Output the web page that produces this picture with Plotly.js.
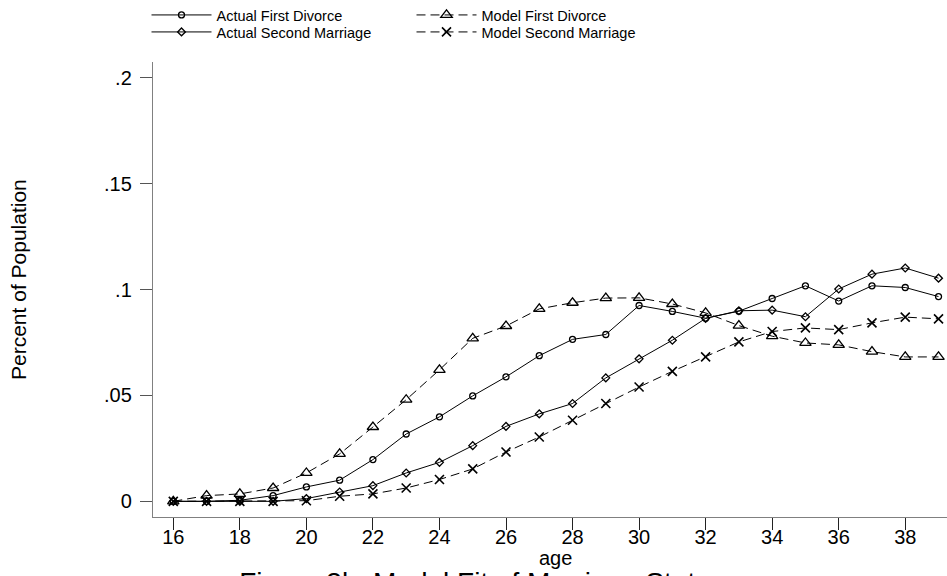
<!DOCTYPE html>
<html>
<head>
<meta charset="utf-8">
<script src="https://cdn.plot.ly/plotly-3.0.1.min.js"></script>
<style>html,body{margin:0;padding:0;background:#fff;}#chart{width:947px;height:576px;}</style>
</head>
<body>
<div id="chart"></div>
<script>
var ages = [16,17,18,19,20,21,22,23,24,25,26,27,28,29,30,31,32,33,34,35,36,37,38,39];
var actualFirstDivorce = [0,0,0.0005,0.0027,0.0068,0.0100,0.0197,0.0318,0.0399,0.0498,0.0588,0.0688,0.0765,0.0788,0.0925,0.0897,0.0865,0.0898,0.0958,0.1018,0.0946,0.1018,0.1010,0.0967];
var modelFirstDivorce = [0,0.0027,0.0035,0.0063,0.0134,0.0224,0.0351,0.0480,0.0621,0.0770,0.0828,0.0909,0.0938,0.0960,0.0961,0.0932,0.0890,0.0830,0.0780,0.0748,0.0739,0.0707,0.0682,0.0682];
var actualSecondMarriage = [0,0,0,0,0.0013,0.0044,0.0074,0.0134,0.0184,0.0263,0.0354,0.0413,0.0462,0.0583,0.0673,0.0761,0.0864,0.0900,0.0903,0.0872,0.1003,0.1073,0.1102,0.1054];
var modelSecondMarriage = [0,0,0,0,0.0003,0.0024,0.0035,0.0063,0.0103,0.0153,0.0233,0.0304,0.0383,0.0462,0.0540,0.0614,0.0682,0.0753,0.0802,0.0819,0.0811,0.0843,0.0870,0.0862];
var seriesNames = ["Actual First Divorce","Model First Divorce","Actual Second Marriage","Model Second Marriage"];
var yTickVals = [0,0.05,0.1,0.15,0.2];
var yTickText = ["0",".05",".1",".15",".2"];
var xTickVals = [16,18,20,22,24,26,28,30,32,34,36,38];

var FONT = "Liberation Sans, Arial, Helvetica, sans-serif";

function tr(y, name, sym, size, dash, leg) {
  return {
    x: ages, y: y, name: name, type: "scatter", mode: "lines+markers",
    line: {color: "#000", width: 1, dash: dash},
    marker: {symbol: sym, size: size, color: "#000", line: {color: "#000", width: 1.3}},
    legend: leg, cliponaxis: false
  };
}
var data = [
  tr(actualFirstDivorce, seriesNames[0], "circle-open", 6, "solid", "legend"),
  tr(modelFirstDivorce, seriesNames[1], "triangle-up-open", 10, "9px,5px", "legend3"),
  tr(actualSecondMarriage, seriesNames[2], "diamond-open", 6, "solid", "legend2"),
  tr(modelSecondMarriage, seriesNames[3], "x-thin-open", 9, "9px,5px", "legend4")
];
data[3].marker.line.width = 1.6;

function leg(x, y) {
  return {x: x/947, y: 1 - y/576, xref: "container", yref: "container", xanchor: "left", yanchor: "middle",
    bgcolor: "rgba(0,0,0,0)", borderwidth: 0, itemwidth: 60, font: {family: FONT, size: 14.5, color: "#000"}};
}

var layout = {
  width: 947, height: 576,
  paper_bgcolor: "#fff", plot_bgcolor: "#fff",
  font: {family: FONT, color: "#000"},
  margin: {l: 153, r: 0, t: 62, b: 59, autoexpand: false},
  title: {text: "Figure 3b: Model Fit of Marriage States", font: {family: FONT, size: 28, color: "#000"},
    x: 482/947, xref: "container", xanchor: "center", y: 4/576, yref: "container", yanchor: "top"},
  xaxis: {range: [15.39, 39.255], tickvals: xTickVals, showline: true, linecolor: "#808080", linewidth: 1.2,
    ticks: "outside", ticklen: 12, tickcolor: "#222", tickwidth: 1, showgrid: false, zeroline: false,
    ticklabelstandoff: -10,
    tickfont: {family: FONT, size: 20, color: "#000"}},
  yaxis: {range: [-0.0074, 0.2075], tickvals: yTickVals, ticktext: yTickText, showline: true, linecolor: "#808080", linewidth: 1.2,
    ticks: "outside", ticklen: 12, tickcolor: "#555", tickwidth: 1, showgrid: false, zeroline: false,
    ticklabelstandoff: 4,
    tickfont: {family: FONT, size: 20, color: "#000"}},
  annotations: [
    {text: "Percent of Population", textangle: -90, xref: "paper", yref: "paper",
     x: -135/794, y: (517 - 280)/455, xanchor: "center", yanchor: "middle", showarrow: false,
     font: {family: FONT, size: 21, color: "#000"}},
    {text: "age", xref: "paper", yref: "paper", x: (555 - 153)/794, y: (517 - 558)/455,
     xanchor: "center", yanchor: "middle", showarrow: false,
     font: {family: FONT, size: 20, color: "#000"}}
  ],
  showlegend: true,
  legend: leg(146.5, 15),
  legend2: leg(146.5, 32),
  legend3: leg(411.5, 15),
  legend4: leg(411.5, 32)
};

Plotly.newPlot("chart", data, layout, {displayModeBar: false, staticPlot: true});
</script>
</body>
</html>
